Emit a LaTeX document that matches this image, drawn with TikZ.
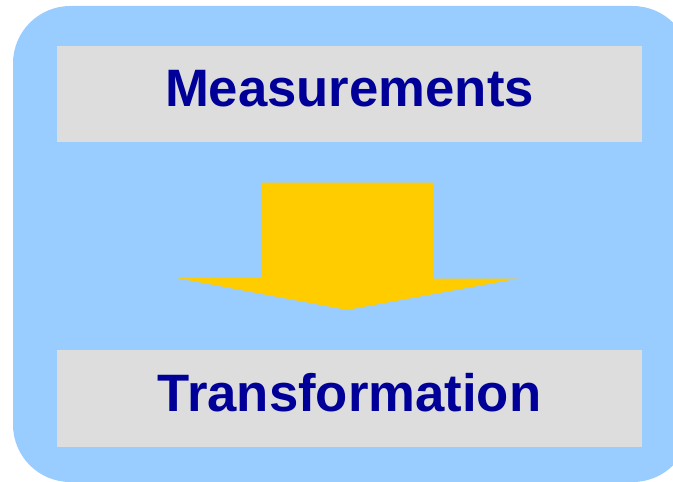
\documentclass[tikz,border=0pt]{standalone}
\usepackage{fontspec}
\setmainfont{Liberation Sans}
\usetikzlibrary{positioning}
\usetikzlibrary{calc}
\definecolor{panelblue}{HTML}{99CCFF}
\definecolor{boxgrey}{HTML}{DDDDDD}
\definecolor{arrowyellow}{HTML}{FFCC00}
\definecolor{labelnavy}{HTML}{000099}

\begin{document}
\begin{tikzpicture}[x=0.75pt, y=-0.75pt,
                greyboxnode/.style={rectangle, fill=boxgrey, minimum width=438.75pt, minimum height=72.5pt, inner sep=0pt, text depth=9pt, text=labelnavy, font=\bfseries\fontsize{39.5}{44}\selectfont},
                ]
    \useasboundingbox (0,0) rectangle (673,481);

    \fill[panelblue, rounded corners=43pt] (13,6) rectangle (690,482);

    \node[greyboxnode] (meas) at (349.5,94) {Measurements};
    \node[greyboxnode] (trans) at (349.5,398.5) {Transformation};

    \fill[arrowyellow] ($(meas.south)+(-87.5,40)$) -- ++(171,0) -- ++(0,96) -- ++(85,0)
        -- ($(trans.north)+(-2.5,-40)$) -- ++(-171,-32) -- ++(86,0) -- cycle;
\end{tikzpicture}
\end{document}
